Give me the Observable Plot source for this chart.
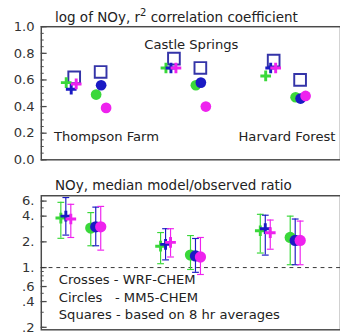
<!DOCTYPE html>
<html><head><meta charset="utf-8">
<script src="https://cdn.jsdelivr.net/npm/d3@7"></script>
<script src="https://cdn.jsdelivr.net/npm/@observablehq/plot@0.6"></script>
<style>
html,body{margin:0;padding:0;background:#fff;overflow:hidden;width:340px;height:336px;}
#wrap{position:relative;width:340px;height:336px;overflow:hidden;font-family:"DejaVu Sans",sans-serif;color:#222;}
.title{position:absolute;left:55px;font-size:13.5px;line-height:1;white-space:nowrap;}
.title sup{font-size:10px;line-height:0;vertical-align:6px;}
.panel{position:absolute;left:0;}
</style></head><body>
<div id="wrap"></div>
<script>
// ---- data ----
const sites = ["Thompson Farm", "Castle Springs", "Harvard Forest"];
const runs = ["run 1", "run 2", "run 3"];            // green, blue, magenta
// r^2 of log NOy, [site][run]
const wrfR2 = [[0.58, 0.53, 0.57], [0.69, 0.69, 0.69], [0.63, 0.69, 0.69]];
const mm5R2 = [[0.49, 0.56, 0.39], [0.56, 0.58, 0.40], [0.47, 0.46, 0.48]];
// r^2 based on 8 hr averages, [site]
const wrfR2_8hr = [0.62, 0.76, 0.745];
const mm5R2_8hr = [0.66, 0.69, 0.60];
// NOy median model/observed ratio with error bars, [site][run]
const wrfRatio = [[3.8, 4.0, 3.7], [1.78, 1.87, 1.97], [2.7, 2.85, 2.56]];
const wrfLo    = [[2.2, 2.4, 2.25], [1.11, 1.23, 1.33], [1.48, 1.4, 1.64]];
const wrfHi    = [[5.8, 6.6, 5.5], [2.57, 2.85, 2.85], [4.2, 4.1, 3.6]];
const mm5Ratio = [[2.9, 3.0, 3.0], [1.4, 1.37, 1.33], [2.25, 2.08, 2.08]];
const mm5Lo    = [[1.8, 1.8, 1.6], [0.95, 0.88, 0.83], [1.08, 1.08, 1.08]];
const mm5Hi    = [[4.4, 5.1, 5.2], [2.37, 2.19, 2.25], [4.0, 3.7, 3.5]];
// axis ticks
const topTicks = [0, 0.2, 0.4, 0.6, 0.8, 1.0];
const botTicks = [0.2, 0.4, 0.6, 1, 2, 4, 6];
const botTickLabels = [".2", ".4", ".6", "1.", "2.", "4.", "6."];
const legendLines = ["Crosses - WRF-CHEM", "Circles   - MM5-CHEM", "Squares - based on 8 hr averages"];

// ---- layout helpers ----
const modelOff = {wrf: -0.15, mm5: 0.15};
const runOff = [-0.05, 0, 0.05];
const colorScale = {domain: runs, range: ["#3ad83a", "#1a1ac4", "#ee22ee"]};
const W = 350, ML = 42, FW = W - ML;
const frameStroke = "#4a4a4a";

function rows(values, model, lo, hi) {
  const out = [];
  sites.forEach((s, i) => runs.forEach((r, j) => {
    out.push({site: s, run: r, x: i + modelOff[model] + runOff[j], v: values[i][j],
      lo: lo ? lo[i][j] : null, hi: hi ? hi[i][j] : null});
  }));
  return out;
}
const topCross = rows(wrfR2, "wrf");
const topCirc = rows(mm5R2, "mm5");
const squares = [
  ...sites.map((s, i) => ({site: s, x: i + modelOff.wrf + 0.03, v: wrfR2_8hr[i]})),
  ...sites.map((s, i) => ({site: s, x: i + modelOff.mm5 - 0.005, v: mm5R2_8hr[i]}))
];
const botCross = rows(wrfRatio, "wrf", wrfLo, wrfHi);
const botCirc = rows(mm5Ratio, "mm5", mm5Lo, mm5Hi);

const cap = {draw(ctx) { ctx.moveTo(-3.5, 0); ctx.lineTo(3.5, 0); }};
const plus = {draw(ctx) { ctx.moveTo(-5.5, 0); ctx.lineTo(5.5, 0); ctx.moveTo(0, -5.5); ctx.lineTo(0, 5.5); }};

// ---- top panel ----
const topPlot = Plot.plot({
  width: W, height: 170, marginLeft: ML, marginRight: 0, marginTop: 27, marginBottom: 6,
  style: {fontFamily: "DejaVu Sans, sans-serif", fontSize: "13.5px", color: "#222", overflow: "visible"},
  x: {domain: [-0.45, 2.55], axis: null},
  y: {domain: [0, 1], axis: null},
  color: colorScale,
  marks: [
    Plot.frame({stroke: frameStroke, strokeWidth: 1.5}),
    Plot.tickY(d3.range(0, 1.001, 0.05), {y: d => d, stroke: frameStroke, insetRight: FW - 3}),
    Plot.tickY(topTicks, {y: d => d, stroke: frameStroke, strokeWidth: 1.3, insetRight: FW - 6}),
    Plot.text(topTicks, {y: d => d, text: d => d.toFixed(1), frameAnchor: "left", textAnchor: "end", dx: -7, fontSize: 13.5, fill: "#333"}),
    Plot.dot(squares, {x: "x", y: "v", symbol: "square", r: 6.8, stroke: "#3434a8", strokeWidth: 2, fill: "none"}),
    Plot.dot(topCross, {x: "x", y: "v", symbol: plus, stroke: "run", fill: "none", strokeWidth: 3}),
    Plot.dot(topCirc, {x: "x", y: "v", r: 5.5, fill: "run"}),
    Plot.text([sites[0]], {text: d => d, frameAnchor: "bottom-left", textAnchor: "start", dx: 13, dy: -19, fill: "#222"}),
    Plot.text([sites[1]], {text: d => d, frameAnchor: "top-left", textAnchor: "start", dx: 106, dy: 13, fill: "#222"}),
    Plot.text([sites[2]], {text: d => d, frameAnchor: "bottom-left", textAnchor: "start", dx: 203, dy: -19, fill: "#222"})
  ]
});

// ---- bottom panel ----
const minorBot = [0.2,0.3,0.4,0.5,0.6,0.7,0.8,0.9,1,2,3,4,5,6];
const legendDy = [-47, -29, -11];
const bottomPlot = Plot.plot({
  width: W, height: 166, marginLeft: ML, marginRight: 0, marginTop: 26, marginBottom: 2,
  style: {fontFamily: "DejaVu Sans, sans-serif", fontSize: "13.5px", color: "#222", overflow: "visible", whiteSpace: "pre"},
  x: {domain: [-0.396, 2.604], axis: null},
  y: {type: "log", domain: [0.187, 6.93], axis: null},
  color: colorScale,
  marks: [
    Plot.frame({stroke: frameStroke, strokeWidth: 1.5}),
    Plot.tickY(minorBot, {y: d => d, stroke: frameStroke, insetRight: FW - 3}),
    Plot.tickY(botTicks, {y: d => d, stroke: frameStroke, strokeWidth: 1.3, insetRight: FW - 6}),
    Plot.text(botTicks, {y: d => d, text: (d, i) => botTickLabels[i], frameAnchor: "left", textAnchor: "end", dx: -7, fontSize: 13.5, fill: "#333"}),
    Plot.ruleY([1], {stroke: "#333", strokeDasharray: "4,4"}),
    Plot.ruleX([...botCross, ...botCirc], {x: "x", y1: "lo", y2: "hi", stroke: "run", strokeWidth: 1.2}),
    Plot.dot([...botCross, ...botCirc], {x: "x", y: "lo", symbol: cap, stroke: "run", fill: "none", strokeWidth: 1.2}),
    Plot.dot([...botCross, ...botCirc], {x: "x", y: "hi", symbol: cap, stroke: "run", fill: "none", strokeWidth: 1.2}),
    Plot.dot(botCross, {x: "x", y: "v", symbol: plus, stroke: "run", fill: "none", strokeWidth: 3}),
    Plot.dot(botCirc, {x: "x", y: "v", r: 5.8, fill: "run"}),
    ...legendLines.map((line, i) => Plot.text([line], {text: d => d, frameAnchor: "bottom-left", textAnchor: "start", dx: 18, dy: legendDy[i], fill: "#222"}))
  ]
});

const wrap = document.getElementById("wrap");
const p1 = document.createElement("div"); p1.className = "panel"; p1.style.top = "0px"; p1.appendChild(topPlot);
const p2 = document.createElement("div"); p2.className = "panel"; p2.style.top = "170px"; p2.appendChild(bottomPlot);
wrap.appendChild(p1); wrap.appendChild(p2);

const t1 = document.createElement("div"); t1.className = "title"; t1.style.top = "11px";
t1.innerHTML = "log of NOy, r<sup>2</sup> correlation coefficient";
const t2 = document.createElement("div"); t2.className = "title"; t2.style.top = "179px";
t2.textContent = "NOy, median model/observed ratio";
wrap.appendChild(t1); wrap.appendChild(t2);
</script>
</body></html>
